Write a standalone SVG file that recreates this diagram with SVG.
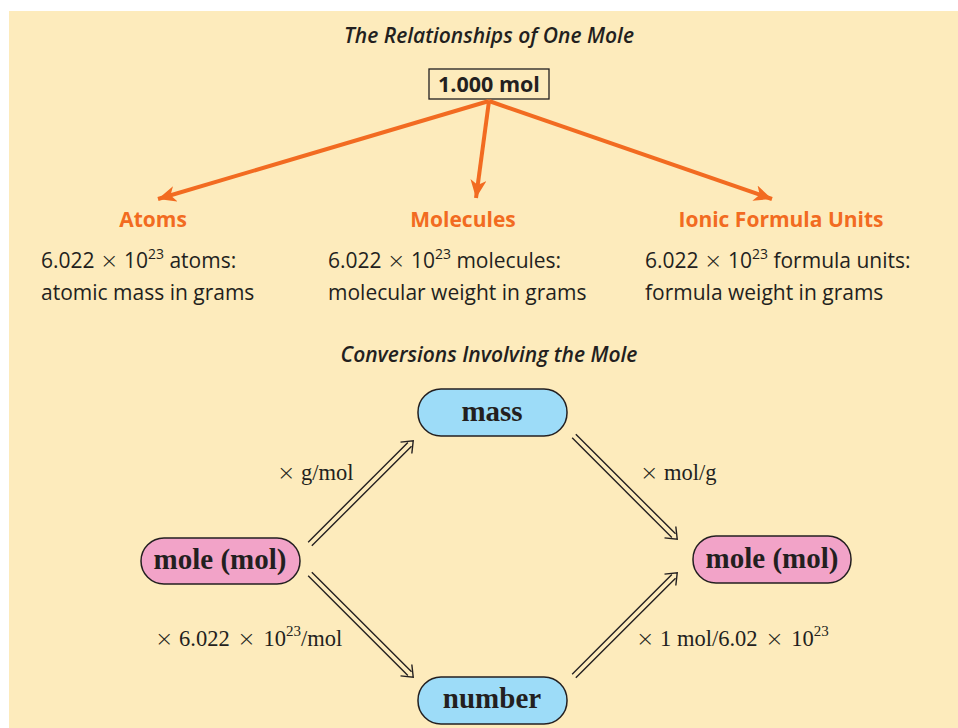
<svg xmlns="http://www.w3.org/2000/svg" width="958" height="728" viewBox="0 0 958 728">
<defs>
<style>
.bg{fill:#FDEBBC}
.ttl{font-family:"Open Sans","Noto Sans",sans-serif;font-style:italic;font-weight:600;font-size:21px;fill:#231F20;text-anchor:middle}
.hd{font-family:"Open Sans","Noto Sans",sans-serif;font-weight:bold;font-size:21px;fill:#F26B21;text-anchor:middle}
.bd{font-family:"Open Sans","Noto Sans",sans-serif;font-size:21px;fill:#231F20}
.sup{font-size:14px}
.x{font-family:"DejaVu Sans",sans-serif;font-weight:200;font-size:22px}
.oa{stroke:#F26B21;stroke-width:4;fill:none}
.nb{fill:#9DDCF8;stroke:#231F20;stroke-width:1.5}
.np{fill:#F2A3C8;stroke:#231F20;stroke-width:1.5}
.nt{font-family:"Liberation Serif","Times New Roman",serif;font-weight:bold;font-size:29px;fill:#231F20;text-anchor:middle}
.lb{font-family:"Liberation Serif","Times New Roman",serif;font-size:22.5px;fill:#231F20}
.dl{stroke:#231F20;stroke-width:1.4;fill:none}
</style>
<marker id="oh" markerUnits="userSpaceOnUse" markerWidth="20" markerHeight="16" refX="18" refY="8" orient="auto">
<path d="M0,0 L18,8 L0,16 L5,8 Z" fill="#F26B21"/>
</marker>
<g id="dbl">
<line class="dl" x1="0" y1="-2.6" x2="141" y2="-2.6"/>
<line class="dl" x1="0" y1="2.6" x2="141" y2="2.6"/>
<polyline class="dl" points="136,-8 146,0 136,8"/>
</g>
</defs>
<rect class="bg" x="9" y="11" width="949" height="717"/>
<text class="ttl" x="489" y="43">The Relationships of One Mole</text>
<g id="root">
<rect x="429" y="69" width="120" height="30" fill="none" stroke="#231F20" stroke-width="1.3"/>
<text x="489" y="92" font-family="Open Sans,Noto Sans,sans-serif" font-weight="bold" font-size="21.5" fill="#231F20" text-anchor="middle">1.000 mol</text>
</g>
<g id="connectors">
<line class="oa" x1="489" y1="101" x2="158" y2="199" marker-end="url(#oh)"/>
<line class="oa" x1="489" y1="101" x2="476" y2="198" marker-end="url(#oh)"/>
<line class="oa" x1="489" y1="101" x2="772" y2="199" marker-end="url(#oh)"/>
<use href="#dbl" transform="translate(310,544) rotate(-45)"/>
<use href="#dbl" transform="translate(574,436) rotate(45)"/>
<use href="#dbl" transform="translate(310,574) rotate(45)"/>
<use href="#dbl" transform="translate(574,676) rotate(-45)"/>
</g>
<g id="atoms">
<text class="hd" x="153" y="227">Atoms</text>
<text class="bd" x="41" y="268">6.022 <tspan class="x">×</tspan> 10<tspan class="sup" dy="-9">23</tspan><tspan dy="9"> atoms:</tspan></text>
<text class="bd" x="41" y="300">atomic mass in grams</text>
</g>
<g id="molecules">
<text class="hd" x="463" y="227">Molecules</text>
<text class="bd" x="328" y="268">6.022 <tspan class="x">×</tspan> 10<tspan class="sup" dy="-9">23</tspan><tspan dy="9"> molecules:</tspan></text>
<text class="bd" x="328" y="300">molecular weight in grams</text>
</g>
<g id="ionic">
<text class="hd" x="781" y="227">Ionic Formula Units</text>
<text class="bd" x="645" y="268">6.022 <tspan class="x">×</tspan> 10<tspan class="sup" dy="-9">23</tspan><tspan dy="9"> formula units:</tspan></text>
<text class="bd" x="645" y="300">formula weight in grams</text>
</g>
<text class="ttl" x="489" y="362">Conversions Involving the Mole</text>
<g id="mass">
<rect class="nb" x="418" y="389" width="149" height="47" rx="23"/>
<text class="nt" x="492" y="421">mass</text>
</g>
<g id="number">
<rect class="nb" x="418" y="677" width="149" height="47" rx="23"/>
<text class="nt" x="492" y="708">number</text>
</g>
<g id="moleLeft">
<rect class="np" x="141" y="538" width="159" height="46" rx="23"/>
<text class="nt" x="220" y="569">mole (mol)</text>
</g>
<g id="moleRight">
<rect class="np" x="693" y="536" width="158" height="47" rx="23"/>
<text class="nt" x="772" y="568">mole (mol)</text>
</g>
<g id="labels">
<text class="lb" x="277" y="480"><tspan class="x">×</tspan> g/mol</text>
<text class="lb" x="640" y="480"><tspan class="x">×</tspan> mol/g</text>
<text class="lb" x="155" y="646"><tspan class="x">×</tspan> 6.022 <tspan class="x" dx="2">×</tspan><tspan dx="2"> 10</tspan><tspan font-size="15" dy="-10">23</tspan><tspan dy="10">/mol</tspan></text>
<text class="lb" x="636" y="646"><tspan class="x">×</tspan> 1 mol/6.02 <tspan class="x" dx="2">×</tspan><tspan dx="2"> 10</tspan><tspan font-size="15" dy="-10">23</tspan></text>
</g>
</svg>
